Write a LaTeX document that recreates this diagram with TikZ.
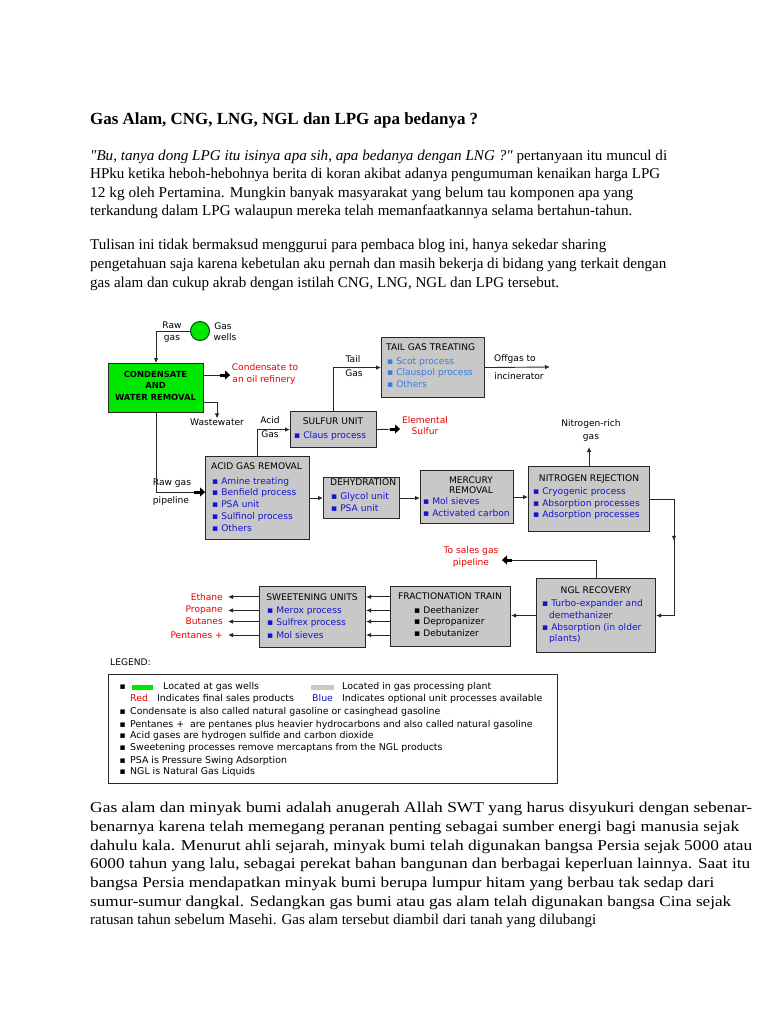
\documentclass[tikz,border=0pt]{standalone}
\usepackage{fontspec}
\usepackage{graphicx}
\setmainfont{Liberation Serif}
\newfontfamily\dfont{DejaVu Sans}
\usetikzlibrary{arrows.meta,calc}
\definecolor{boxgray}{RGB}{200,200,200}
\definecolor{wellgreen}{RGB}{0,232,0}
\definecolor{dred}{RGB}{232,0,0}
\definecolor{dblue}{RGB}{20,20,205}
\definecolor{lblue}{RGB}{55,125,225}
\definecolor{lnk}{RGB}{40,40,40}
\newcommand{\fitw}[2]{\resizebox{#1pt}{\height}{#2}}
\begin{document}
\begin{tikzpicture}[x=1pt,y=-1pt,
 body/.style={anchor=mid west, inner sep=0pt, font=\fontsize{15}{18}\selectfont},
 lbl/.style={inner sep=0pt, anchor=mid, font=\dfont\fontsize{9.1}{10}\selectfont},
 lbll/.style={lbl, anchor=mid west},
 lblr/.style={lbl, anchor=mid east},
 legt/.style={lbll, font=\dfont\fontsize{9.4}{10}\selectfont},
 item/.style={lbll, text=dblue},
 bx/.style={draw=lnk, line width=1.1pt, fill=boxgray, anchor=north west, inner sep=0pt},
 arr/.style={draw=lnk, line width=0.9pt, -{Latex[length=5pt,width=4.5pt]}},
 ln/.style={draw=lnk, line width=0.9pt},
 fat/.style={draw=black, line width=3pt, -{Triangle[length=5pt,width=9pt]}}]
\useasboundingbox (0,0) rectangle (768,1024);
\fill[white] (0,0) rectangle (768,1024);

% ---------- text above ----------
\node[body] (t0) at (90,122) {\fitw{388}{\fontsize{17}{20}\selectfont\bfseries Gas Alam, CNG, LNG, NGL dan LPG apa bedanya ?}};
\node[body] (t1) at (90,158) {\fitw{577}{\textit{″Bu, tanya dong LPG itu isinya apa sih, apa bedanya dengan LNG ?″} pertanyaan itu muncul di}};
\node[body] (t2) at (90,176.5) {\fitw{570}{HPku ketika heboh-hebohnya berita di koran akibat adanya pengumuman kenaikan harga LPG}};
\node[body] (t3) at (90,195) {\fitw{543}{12 kg oleh Pertamina. Mungkin banyak masyarakat yang belum tau komponen apa yang}};
\node[body] (t4) at (90,213.5) {\fitw{542}{terkandung dalam LPG walaupun mereka telah memanfaatkannya selama bertahun-tahun.}};
\node[body] (t5) at (90,247) {\fitw{516}{Tulisan ini tidak bermaksud menggurui para pembaca blog ini, hanya sekedar sharing}};
\node[body] (t6) at (90,266) {\fitw{576}{pengetahuan saja karena kebetulan aku pernah dan masih bekerja di bidang yang terkait dengan}};
\node[body] (t7) at (90,285) {\fitw{469}{gas alam dan cukup akrab dengan istilah CNG, LNG, NGL dan LPG tersebut.}};

% ---------- boxes ----------
\node[circle, draw=black!70!green, line width=1pt, fill=wellgreen, minimum size=19pt, inner sep=0pt] (wells) at (200,331) {};
\node[bx, fill=wellgreen, minimum width=95pt, minimum height=49pt] (cwr) at (108,363) {};
\node[bx, minimum width=103pt, minimum height=60pt] (tgt) at (381,337) {};
\node[bx, minimum width=86pt, minimum height=36pt] (su) at (290,411) {};
\node[bx, minimum width=104pt, minimum height=83pt] (agr) at (205,456) {};
\node[bx, minimum width=76pt, minimum height=41pt] (dehy) at (323,477) {};
\node[bx, minimum width=93pt, minimum height=53pt] (merc) at (420,470) {};
\node[bx, minimum width=121pt, minimum height=65pt] (nrej) at (528,466) {};
\node[bx, minimum width=119pt, minimum height=74pt] (ngl) at (536,578) {};
\node[bx, minimum width=120pt, minimum height=60pt] (frac) at (390,586) {};
\node[bx, minimum width=106pt, minimum height=61pt] (sweet) at (259,586) {};

% box texts
\node[lbl, font=\dfont\bfseries\fontsize{8.4}{10}\selectfont] (cwr1) at (155.5,375) {CONDENSATE};
\node[lbl, font=\dfont\bfseries\fontsize{8.4}{10}\selectfont] (cwr2) at (155.5,386.5) {AND};
\node[lbl, font=\dfont\bfseries\fontsize{8.4}{10}\selectfont] (cwr3) at (155.5,398) {WATER REMOVAL};

\node[lbll] (tgt0) at (386,348) {TAIL GAS TREATING};
\foreach \t [count=\i] in {Scot process, Clauspol process, Others}
  \node[item, text=lblue] (tgt\i) at (387,{362+11.5*(\i-1)}) {▪ \t};

\node[lbl] (su0) at (333,422) {SULFUR UNIT};
\node[item] (su1) at (294,436) {▪ Claus process};

\node[lbll] (agr0) at (211,467) {ACID GAS REMOVAL};
\foreach \t [count=\i] in {Amine treating, Benfield process, PSA unit, Sulfinol process, Others}
  \node[item] (agr\i) at (212,{482+11.7*(\i-1)}) {▪ \t};

\node[lbll] (dehy0) at (330,483.5) {DEHYDRATION};
\foreach \t [count=\i] in {Glycol unit, PSA unit}
  \node[item] (dehy\i) at (331,{497+11.8*(\i-1)}) {▪ \t};

\node[lbl] (merc0) at (471,481) {MERCURY};
\node[lbl] (merc00) at (471,491.5) {REMOVAL};
\foreach \t [count=\i] in {Mol sieves, Activated carbon}
  \node[item] (merc\i) at (423,{502.5+11.7*(\i-1)}) {▪ \t};

\node[lbl] (nrej0) at (589,479) {NITROGEN REJECTION};
\foreach \t [count=\i] in {Cryogenic process, Absorption processes, Adsorption processes}
  \node[item] (nrej\i) at (533,{492+11.8*(\i-1)}) {▪ \t};

\node[lbl] (ngl0) at (596,591) {NGL RECOVERY};
\node[item] (ngl1) at (542,604) {▪ Turbo-expander and};
\node[item] (ngl2) at (549,616) {demethanizer};
\node[item] (ngl3) at (542,628) {▪ Absorption (in older};
\node[item] (ngl4) at (549,639.5) {plants)};

\node[lbl] (frac0) at (450,597.5) {FRACTIONATION TRAIN};
\foreach \t [count=\i] in {Deethanizer, Depropanizer, Debutanizer}
  \node[lbll] (frac\i) at (414,{611+11.6*(\i-1)}) {▪ \t};

\node[lbl] (sw0) at (312,598) {SWEETENING UNITS};
\foreach \t [count=\i] in {Merox process, Sulfrex process, Mol sieves}
  \node[item] (sw\i) at (267,{611+12.5*(\i-1)}) {▪ \t};

% ---------- free labels ----------
\node[lbl] (rawa) at (172,326) {Raw};
\node[lbl] (rawb) at (172,338.5) {gas};
\node[lbl] (gwa) at (223,327) {Gas};
\node[lbl] (gwb) at (225,338.5) {wells};
\node[lbl, text=dred] (coa) at (265,368.5) {Condensate to};
\node[lbl, text=dred] (cob) at (264,380.5) {an oil refinery};
\node[lbl] (ww) at (217,423) {Wastewater};
\node[lbl] (rgpa) at (172,483) {Raw gas};
\node[lbl] (rgpb) at (171,501) {pipeline};
\node[lbl] (aga) at (270,421) {Acid};
\node[lbl] (agb) at (270,435) {Gas};
\node[lbl] (tga) at (353,360) {Tail};
\node[lbl] (tgb) at (354,374) {Gas};
\node[lbl, text=dred] (esa) at (425,421) {Elemental};
\node[lbl, text=dred] (esb) at (425,432.5) {Sulfur};
\node[lbl] (ofa) at (515,359) {Offgas to};
\node[lbl] (ofb) at (519,377) {incinerator};
\node[lbl] (nra) at (591,424) {Nitrogen-rich};
\node[lbl] (nrb) at (591,437) {gas};
\node[lbl, text=dred] (sga) at (471,551) {To sales gas};
\node[lbl, text=dred] (sgb) at (471,563) {pipeline};
\node[lblr, text=dred] (p1) at (223,598) {Ethane};
\node[lblr, text=dred] (p2) at (223,610.5) {Propane};
\node[lblr, text=dred] (p3) at (223,622.5) {Butanes};
\node[lblr, text=dred] (p4) at (223,636) {Pentanes +};

% ---------- connectors ----------
\coordinate (cof) at (230,375);
\coordinate (esf) at (400,429);
\coordinate (rgf) at (205,492);
\coordinate (sgf) at (502,560);
\coordinate (off) at (550,367);
\coordinate (nrf) at (591,447);
\coordinate (rr) at (674,0);

\draw[arr] (wells.west) -| (cwr.north);
\draw[ln] ([yshift=-12pt]cwr.north east) -- (cof);
\draw[fat] ($(cof)+(-10,0)$) -- (cof);
\draw[arr] ([yshift=11pt]cwr.south east) -| (ww.north);
\draw[ln] (cwr.south) |- (rgf);
\draw[fat] ($(rgf)+(-11,0)$) -- (rgf);
\draw[arr] (agr.north) |- (su.west);
\draw[ln] (su.east) -- (esf);
\draw[fat] ($(esf)+(-10,0)$) -- (esf);
\draw[arr] (su.north) |- (tgt.west);
\draw[arr] (tgt.east) -- (off);
\draw[arr] (agr.east) -- (agr.east -| dehy.west);
\draw[arr] (dehy.east) -- (dehy.east -| merc.west);
\draw[arr] (merc.east) -- (merc.east -| nrej.west);
\draw[arr] (nrej.north) -- (nrej.north |- nrf);
\draw[arr] (nrej.east) -- (nrej.east -| rr) -- (rr |- ngl.east) -- (ngl.east);
\draw[arr] (nrej.east -| rr) -- ($(nrej.east -| rr)!0.36!(rr |- ngl.east)$);
\draw[ln] (ngl.north) |- (sgf);
\draw[fat] ($(sgf)+(10,0)$) -- (sgf);
\draw[arr] (ngl.west) -- (ngl.west -| frac.east);
\foreach \k in {1,2,3,4} {
  \draw[arr] (frac.west |- p\k) -- (sweet.east |- p\k);
  \draw[arr] (sweet.west |- p\k) -- ([xshift=5pt]p\k.east);
}

% ---------- legend ----------
\node[lbll] (leg) at (110,663) {LEGEND:};
\node[draw=lnk, line width=1pt, anchor=north west, minimum width=449pt, minimum height=109pt, inner sep=0pt] (legbox) at (108,674) {};
\foreach \yy [count=\i] in {687,712,725,736.5,748.5,761,772.5}
  \node[lbll, font=\dfont\fontsize{9}{9}\selectfont] (lb\i) at (119.5,\yy) {▪};
\node[draw=none, fill=wellgreen, minimum width=21pt, minimum height=5pt, inner sep=0pt] (lgg) at (142.5,687.5) {};
\node[legt] (lg1) at (163,687) {Located at gas wells};
\node[draw=none, fill=boxgray, minimum width=23pt, minimum height=5pt, inner sep=0pt] (lgy) at (322.5,687.5) {};
\node[legt] (lg2) at (342,687) {Located in gas processing plant};
\node[legt, text=dred] (lg3) at (130,699) {Red};
\node[legt] (lg4) at (157,699) {Indicates final sales products};
\node[legt, text=dblue] (lg5) at (312,699) {Blue};
\node[legt] (lg6) at (342,699) {Indicates optional unit processes available};
\node[legt] (lg7) at (130,712) {Condensate is also called natural gasoline or casinghead gasoline};
\node[legt] (lg8) at (130,725) {Pentanes +\ \ are pentanes plus heavier hydrocarbons and also called natural gasoline};
\node[legt] (lg9) at (130,736.5) {Acid gases are hydrogen sulfide and carbon dioxide};
\node[legt] (lg10) at (130,748.5) {Sweetening processes remove mercaptans from the NGL products};
\node[legt] (lg11) at (130,761) {PSA is Pressure Swing Adsorption};
\node[legt] (lg12) at (130,772.5) {NGL is Natural Gas Liquids};

% ---------- text below ----------
\node[body] (b1) at (90,810) {\fitw{662}{Gas alam dan minyak bumi adalah anugerah Allah SWT yang harus disyukuri dengan sebenar-}};
\node[body] (b2) at (90,829) {\fitw{649}{benarnya karena telah memegang peranan penting sebagai sumber energi bagi manusia sejak}};
\node[body] (b3) at (90,848) {\fitw{662}{dahulu kala. Menurut ahli sejarah, minyak bumi telah digunakan bangsa Persia sejak 5000 atau}};
\node[body] (b4) at (90,866.5) {\fitw{660}{6000 tahun yang lalu, sebagai perekat bahan bangunan dan berbagai keperluan lainnya. Saat itu}};
\node[body] (b5) at (90,885) {\fitw{624}{bangsa Persia mendapatkan minyak bumi berupa lumpur hitam yang berbau tak sedap dari}};
\node[body] (b6) at (90,904) {\fitw{641}{sumur-sumur dangkal. Sedangkan gas bumi atau gas alam telah digunakan bangsa Cina sejak}};
\node[body] (b7) at (90,922.5) {\fitw{506}{ratusan tahun sebelum Masehi. Gas alam tersebut diambil dari tanah yang dilubangi}};
\end{tikzpicture}
\end{document}
